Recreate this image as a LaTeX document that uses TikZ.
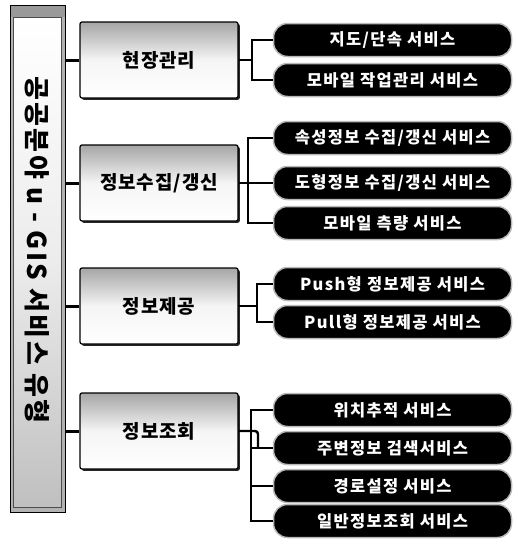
\documentclass[tikz,border=0pt]{standalone}
\usepackage{fontspec}
\newfontfamily\krpill[LetterSpace=8]{Noto Sans CJK KR}
\newfontfamily\krcat[LetterSpace=5]{Noto Sans CJK KR}
\newfontfamily\krtitle[LetterSpace=9]{Noto Sans CJK KR}
\usetikzlibrary{shadows}
\begin{document}
\begin{tikzpicture}[x=1pt,y=-1pt,
  catbox/.style={draw=black, line width=1.2pt, rounded corners=2pt,
    minimum width=158pt, minimum height=76pt, inner sep=0pt,
    top color=gray!70, bottom color=white, middle color=white!92!gray,
    drop shadow={shadow xshift=1.8pt, shadow yshift=-1.8pt, fill=black!85, opacity=1},
    font=\krcat\bfseries\fontsize{19}{22}\selectfont},
  pill/.style={fill=black, draw=gray!55, line width=1.5pt, rounded corners=14pt,
    minimum width=238pt, minimum height=33pt, inner sep=0pt, text=white,
    font=\krpill\bfseries\fontsize{16.5}{19}\selectfont},
  link/.style={line width=3pt},
  brk/.style={line width=2.4pt, line join=miter}
]
\useasboundingbox (0,0) rectangle (518,546);
% left title box
\node[draw=black, line width=1pt, fill=gray!60, minimum width=55pt, minimum height=507pt, inner sep=0pt] (title) at (37.5,258.5) {};
\fill[gray!80] (10.5,5.5) rectangle (64.5,17);
\node[draw=black!70, line width=0.8pt, top color=white, bottom color=gray!50, middle color=white!85!gray,
  minimum width=48pt, minimum height=490pt, inner sep=0pt] (inner) at (37.5,262.5) {};
\node[rotate=-90, font=\krtitle\bfseries\fontsize{26}{29}\selectfont] (ttext) at (37,250) {공공분야 u - GIS 서비스 유형};
% category boxes
\node[catbox] (c1) at (159,60) {현장관리};
\node[catbox] (c2) at (159,183) {정보수집/갱신};
\node[catbox] (c3) at (159,306) {정보제공};
\node[catbox] (c4) at (159,431) {정보조회};
% left links
\foreach \c in {c1,c2,c3,c4} \draw[link] (title.east |- \c.west) -- (\c.west);
% pills
\node[pill] (p1) at (392.5,40) {지도/단속 서비스};
\node[pill] (p2) at (392.5,80) {모바일 작업관리 서비스};
\node[pill] (p3) at (392.5,138) {속성정보 수집/갱신 서비스};
\node[pill] (p4) at (392.5,183) {도형정보 수집/갱신 서비스};
\node[pill] (p5) at (392.5,223) {모바일 측량 서비스};
\node[pill] (p6) at (392.5,284) {Push형 정보제공 서비스};
\node[pill] (p7) at (392.5,322) {Pull형 정보제공 서비스};
\node[pill] (p8) at (392.5,410) {위치추적 서비스};
\node[pill] (p9) at (392.5,448) {주변정보 검색서비스};
\node[pill] (p10) at (392.5,486) {경로설정 서비스};
\node[pill] (p11) at (392.5,521) {일반정보조회 서비스};
% brackets
\coordinate (b1) at (252,60);
\coordinate (b2) at (248,183);
\coordinate (b3) at (257,306);
\coordinate (b4) at (251,431);
\coordinate (k4) at (258,448);
\draw[brk] (c1.east) -- (b1);
\draw[brk] (p1.west) -| (b1) |- (p2.west);
\draw[brk] (c2.east) -- (p4.west);
\draw[brk] (p3.west) -| (b2) |- (p5.west);
\draw[brk] (c3.east) -- (b3);
\draw[brk] (p6.west) -| (b3) |- (p7.west);
\draw[brk] (p8.west) -| (b4) |- (p11.west);
\draw[brk] (b4 |- p9.west) -- (p9.west);
\draw[brk] (b4 |- p10.west) -- (p10.west);
\draw[brk, rounded corners=3pt] (c4.east) -| (k4);
\end{tikzpicture}
\end{document}
